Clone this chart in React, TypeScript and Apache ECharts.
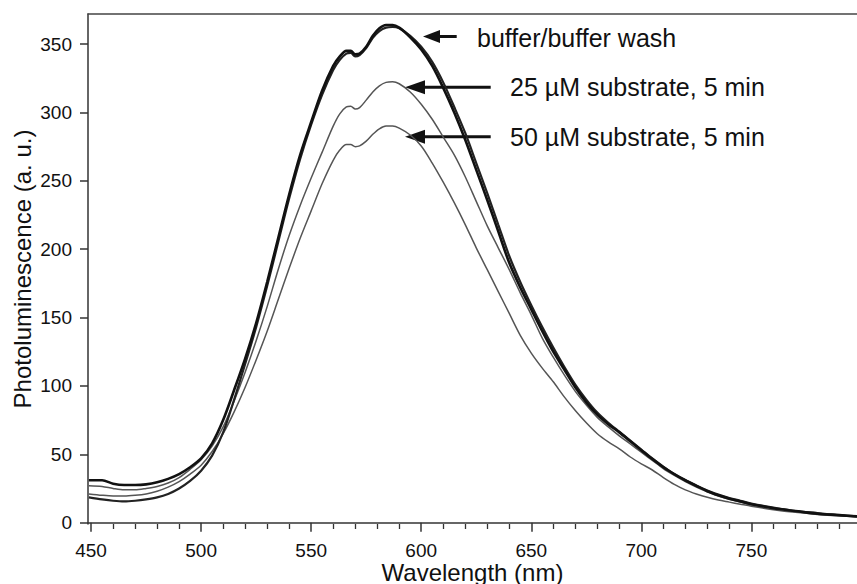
import React, { useEffect, useRef } from "react";
import * as echarts from "echarts";

const wavelengths = [449,455,460,465,470,475,480,485,490,495,500,505,510,515,520,525,530,535,540,545,550,555,560,563,566,568,570,572,575,578,581,584,587,590,595,600,605,610,615,620,625,630,635,640,645,650,655,660,665,670,675,680,685,690,695,700,705,710,715,720,725,730,735,740,745,750,760,770,780,790,798];

const buffer = [31,31,28.5,27.5,27.5,28,29.5,32,35.5,40.5,47,58,75,97,120,146,176,208,240,269,293,316,334,341,345,345,342.5,343,348,356,361.5,364,364,362,355,346,334,318,300,280,258,236,213,190,172,156,140,125,112,99,88,79,72,66,59.5,53,46.5,40.5,35.5,31,27,23,20,17.5,15.5,13.5,10.5,8.5,6.5,5.5,4.5];

const bufferWash = [18.5,17,16,15.5,16,17,18.5,21,25,30.5,38,49,66,90,116,143,173,205,237,266,291,313,331,338.5,343,343.5,341,342,347,354.5,359.5,362,362.5,361.5,356,348,337,322,304,285,263,241,218,195,176,159,143,128,114,101,90,80.5,73,66.5,60,53.5,47,41,35.5,31,27,23.5,20.5,18,16,14,11,8.5,7,5.5,4.8];

const substrate25 = [27,26.5,25,24,24,25,26.5,29,33,39,46,56,70,89,110,133,158,185,210,232,252,271,290,299,304,304.5,302.5,303.5,309,315,319.5,322,322.5,321,315,306,295,282,269,253,235,217,201,185,168,152,135,121,108,96,86,77,70,63.5,57.5,51.5,45.5,39.5,34.5,30,26,22.5,19.5,17,15,13,10.5,8.5,6.5,5.5,4.5];

const substrate50 = [21,20,19.5,19.5,20,21,23,26,30,35.5,42,52,65,81,99,119,140,163,186,208,228,248,265,272.5,276.5,276.5,275,275.5,279,284,288,290,290,288.5,283.5,275.5,263,249,234,218,201,185,169,153,137,124,113,103,92,82,73,65,59,54,48,43,38.5,33,28,24,21,18.5,16.5,15,13.5,12,9.5,7.5,6,5,4.2];

const xMajorTicks = [450, 500, 550, 600, 650, 700, 750];
const xMinorTicks = [460,470,480,490,510,520,530,540,560,570,580,590,610,620,630,640,660,670,680,690,710,720,730,740,760,770,780,790];
const yTicks = [0, 50, 100, 150, 200, 250, 300, 350];

const seriesNames = ["buffer", "buffer wash", "25 µM substrate, 5 min", "50 µM substrate, 5 min"];
const annotations = ["buffer/buffer wash", "25 µM substrate, 5 min", "50 µM substrate, 5 min"];

const FONT = "'Liberation Sans', Arial, Helvetica, sans-serif";
const AXIS_COLOR = "#333";

export default function App() {
  const ref = useRef<HTMLDivElement>(null);
  useEffect(() => {
    if (!ref.current) return;
    const chart = echarts.init(ref.current, undefined, { renderer: "svg" });
    const toPairs = (vals: number[]) => wavelengths.map((w, i) => [w, vals[i]]);
    const xMin = 448.6;
    const xMax = 798;
    const arrow = (tail: number, base: number, tip: number, y: number, half: number) => [
      { type: "line", shape: { x1: tail, y1: y, x2: base - 3, y2: y }, style: { stroke: "#111", lineWidth: 3 } },
      { type: "polygon", shape: { points: [[tip, y], [base, y - half], [base, y + half]] }, style: { fill: "#111" } },
    ];
    const option: any = {
      animation: false,
      backgroundColor: "#fff",
      grid: { left: 88, top: 14, width: 769, height: 510, containLabel: false, outerBoundsMode: "none" },
      xAxis: [
        {
          type: "value",
          min: xMin,
          max: xMax,
          position: "bottom",
          axisLine: { show: true, lineStyle: { color: AXIS_COLOR, width: 1.5 } },
          axisTick: { show: true, customValues: xMajorTicks, length: 9, lineStyle: { color: AXIS_COLOR, width: 1.5 } },
          axisLabel: { customValues: xMajorTicks, fontSize: 19, lineHeight: 18, color: "#111", margin: 17, fontFamily: FONT },
          splitLine: { show: false },
          name: "Wavelength (nm)",
          nameLocation: "middle",
          nameGap: 37,
          nameMoveOverlap: false,
          nameTextStyle: { fontSize: 24, lineHeight: 22, color: "#111", fontFamily: FONT },
        },
        {
          type: "value",
          min: xMin,
          max: xMax,
          position: "bottom",
          axisLine: { show: false },
          axisTick: { show: true, customValues: xMinorTicks, length: 5, lineStyle: { color: AXIS_COLOR, width: 1.3 } },
          axisLabel: { show: false },
          splitLine: { show: false },
        },
        {
          type: "value",
          min: xMin,
          max: xMax,
          position: "top",
          axisLine: { show: true, lineStyle: { color: "#444", width: 1.5 } },
          axisTick: { show: false },
          axisLabel: { show: false },
          splitLine: { show: false },
        },
      ],
      yAxis: {
        type: "value",
        min: -1,
        max: 372,
        axisLine: { show: true, lineStyle: { color: AXIS_COLOR, width: 1.5 } },
        axisTick: { show: true, customValues: yTicks, length: 8, lineStyle: { color: AXIS_COLOR, width: 1.5 } },
        axisLabel: { customValues: yTicks, fontSize: 19, color: "#111", margin: 16, fontFamily: FONT },
        splitLine: { show: false },
        name: "Photoluminescence (a. u.)",
        nameLocation: "middle",
        nameGap: 54,
        nameMoveOverlap: false,
        nameTextStyle: { fontSize: 24, color: "#111", fontFamily: FONT },
      },
      series: [
        { name: seriesNames[0], type: "line", data: toPairs(buffer), showSymbol: false, symbol: "none", smooth: 0.3, lineStyle: { color: "#111", width: 2.6 }, z: 4 },
        { name: seriesNames[1], type: "line", data: toPairs(bufferWash), showSymbol: false, symbol: "none", smooth: 0.3, lineStyle: { color: "#222", width: 2.2 }, z: 3 },
        { name: seriesNames[2], type: "line", data: toPairs(substrate25), showSymbol: false, symbol: "none", smooth: 0.3, lineStyle: { color: "#555", width: 1.5 }, z: 2 },
        { name: seriesNames[3], type: "line", data: toPairs(substrate50), showSymbol: false, symbol: "none", smooth: 0.3, lineStyle: { color: "#555", width: 1.5 }, z: 2 },
      ],
      graphic: [
        ...arrow(456.7, 440, 423, 36.5, 6.5),
        ...arrow(490.7, 425, 405, 87.3, 7),
        ...arrow(490.7, 425, 405, 136.7, 7),
        { type: "text", x: 477, y: 37.5, style: { text: annotations[0], fontSize: 25, fontFamily: FONT, fill: "#111", verticalAlign: "middle" } },
        { type: "text", x: 510, y: 87, style: { text: annotations[1], fontSize: 25, fontFamily: FONT, fill: "#111", verticalAlign: "middle" } },
        { type: "text", x: 510, y: 137, style: { text: annotations[2], fontSize: 25, fontFamily: FONT, fill: "#111", verticalAlign: "middle" } },
      ],
    };
    chart.setOption(option);
    return () => chart.dispose();
  }, []);
  return <div ref={ref} style={{ position: "absolute", left: 0, top: 0, width: 857, height: 584 }} />;
}
